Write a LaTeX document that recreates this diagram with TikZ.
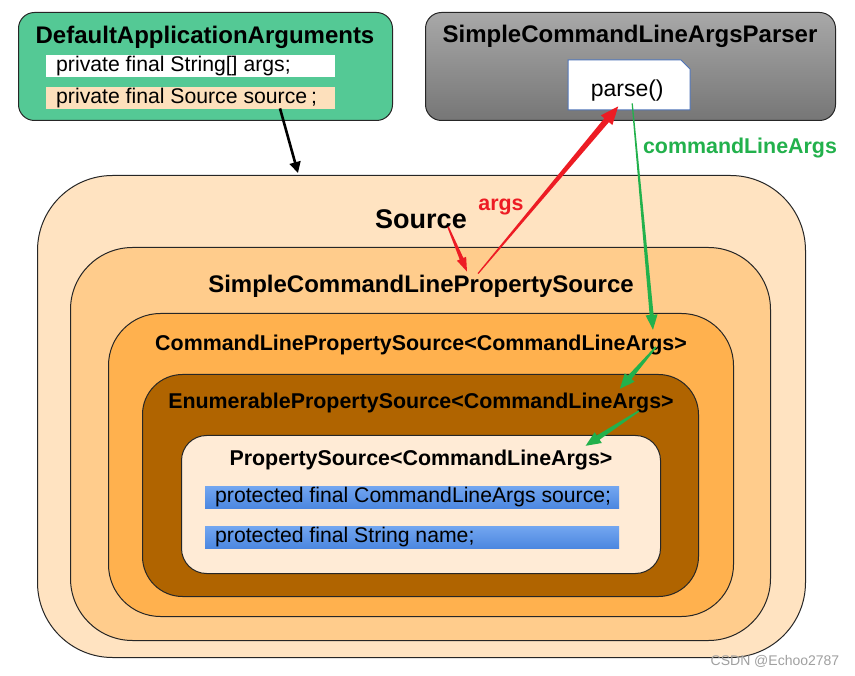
\documentclass[tikz,border=0pt]{standalone}
\usepackage{fontspec}
\setmainfont{Liberation Sans}
\usetikzlibrary{calc,arrows.meta}
\definecolor{boxgreen}{RGB}{84,201,149}
\definecolor{rowpeach}{RGB}{253,224,188}
\definecolor{srcfill}{RGB}{255,227,193}
\definecolor{simplefill}{RGB}{255,204,140}
\definecolor{cmdfill}{RGB}{255,177,78}
\definecolor{enumfill}{RGB}{176,100,0}
\definecolor{psfill}{RGB}{255,235,214}
\definecolor{bluetop}{RGB}{115,166,240}
\definecolor{bluebot}{RGB}{76,135,224}
\definecolor{graytop}{RGB}{168,168,168}
\definecolor{graybot}{RGB}{118,118,118}
\definecolor{parseborder}{RGB}{79,116,184}
\definecolor{arrred}{RGB}{237,28,36}
\definecolor{arrgreen}{RGB}{34,177,76}
\definecolor{wmgray}{RGB}{160,160,160}
\newcommand\taperarrow[7]{%
  \coordinate (tpH) at ($(#3)!#6!(#2)$);
  \fill[#1] ($(#2)!#4!90:(#3)$) -- ($(tpH)!#5!90:(#3)$) -- ($(tpH)!#7!90:(#3)$) -- (#3)
    -- ($(tpH)!#7!-90:(#3)$) -- ($(tpH)!#5!-90:(#3)$) -- ($(#2)!#4!-90:(#3)$) -- cycle;}
\newcommand\rowtext[2]{\makebox[#1][l]{#2}}
\begin{document}
\begin{tikzpicture}[x=1pt,y=-1pt,
  box/.style={draw=black!85, line width=1pt, anchor=north west, inner sep=0pt},
  ttl/.style={font=\bfseries\fontsize{24}{28}\selectfont, inner sep=0pt},
  lbl/.style={font=\bfseries\fontsize{21.4}{24}\selectfont, inner sep=0pt},
  row/.style={anchor=north west, inner xsep=10pt, inner ysep=0pt, minimum height=22pt,
    font=\fontsize{21.2}{22}\selectfont},
  bluerow/.style={row, top color=bluetop, bottom color=bluebot}]
\useasboundingbox (0,0) rectangle (855,676);
\fill[white] (0,0) rectangle (855,676);

% DefaultApplicationArguments
\node[box, fill=boxgreen, rounded corners=16pt, minimum width=374pt, minimum height=108pt] (daa) at (18,12) {};
\node[ttl] (daaT) at (205,37) {DefaultApplicationArguments};
\node[row, fill=white] (r1) at (46,55) {\rowtext{269pt}{private final String[] args;}};
\node[row, fill=rowpeach] (r2) at (46,87) {\rowtext{269pt}{private final Source source\hspace{4pt};}};

% SimpleCommandLineArgsParser
\node[box, rounded corners=16pt, top color=graytop, bottom color=graybot, minimum width=410pt, minimum height=108pt] (parser) at (425,12) {};
\node[ttl] (parserT) at (630,36) {SimpleCommandLineArgsParser};
\filldraw[fill=white, draw=parseborder, line width=1pt] (568,110) -- (568,60) -- (681,60) -- (690,69) -- (690,110) -- cycle;
\node[anchor=north west, minimum width=122pt, minimum height=50pt, inner sep=0pt, font=\fontsize{23}{26}\selectfont] (parse) at (566,60) {\raisebox{-11pt}[0pt][0pt]{parse()}};

% nested sources
\node[box, fill=srcfill, rounded corners=75pt, minimum width=768pt, minimum height=482pt] (src) at (37,175) {};
\node[box, fill=simplefill, rounded corners=62pt, minimum width=700pt, minimum height=393pt] (simple) at (70,247) {};
\node[box, fill=cmdfill, rounded corners=52pt, minimum width=625pt, minimum height=303pt] (cmd) at (108,313) {};
\node[box, fill=enumfill, rounded corners=40pt, minimum width=556pt, minimum height=222pt] (enum) at (142,374) {};
\node[box, fill=psfill, rounded corners=25pt, minimum width=479pt, minimum height=138pt] (ps) at (181,435) {};

\node[font=\bfseries\fontsize{27}{30}\selectfont, inner sep=0pt] (srcT) at (421,219) {Source};
\node[ttl] (simpleT) at (421,286) {SimpleCommandLinePropertySource};
\node[lbl] (cmdT) at (421,345) {CommandLinePropertySource<CommandLineArgs>};
\node[lbl] (enumT) at (421,403) {EnumerablePropertySource<CommandLineArgs>};
\node[lbl] (psT) at (421,460) {PropertySource<CommandLineArgs>};
\node[bluerow] (b1) at (205,486) {\rowtext{394pt}{protected final CommandLineArgs source;}};
\node[bluerow] (b2) at (205,526) {\rowtext{394pt}{protected final String name;}};

% labels
\node[lbl, text=arrred] (argsL) at (501,207) {args};
\node[lbl, text=arrgreen] (claL) at (740,148) {commandLineArgs};
\node[font=\fontsize{14}{16}\selectfont, text=wmgray, inner sep=0pt] (wm) at (775,661) {CSDN @Echoo2787};

% connectors
\draw[line width=2.6pt, -{Triangle[length=11pt,width=11pt]}] ($(r2.south west)+(234,-1)$) -- ($(src.north west)+(261,-2)$);

\coordinate (rA) at ($(simpleT.north)+(57,-1)$);
\coordinate (rB) at ($(parse.south)+(-9,-4)$);
\taperarrow{arrred}{rA}{rB}{0.6pt}{3pt}{18pt}{7.5pt}

\coordinate (r2A) at ($(srcT.south)+(27,-2)$);
\coordinate (r2B) at ($(simpleT.north)+(46,-3)$);
\taperarrow{arrred}{r2A}{r2B}{0.8pt}{2pt}{14pt}{5pt}

\coordinate (gA) at ($(parse.south)+(5,-7)$);
\coordinate (gB) at ($(cmdT.north east)+(-34,-5)$);
\taperarrow{arrgreen}{gA}{gB}{0.6pt}{2pt}{15pt}{6pt}

\coordinate (g2A) at ($(cmdT.east)+(-31,2)$);
\coordinate (g2B) at ($(enumT.north east)+(-54,-4)$);
\taperarrow{arrgreen}{g2A}{g2B}{0.8pt}{2.5pt}{15pt}{6.5pt}

\coordinate (g3A) at ($(enumT.east)+(-35,8)$);
\coordinate (g3B) at ($(psT.north east)+(-27,-4)$);
\taperarrow{arrgreen}{g3A}{g3B}{0.8pt}{2.5pt}{15pt}{6.5pt}
\end{tikzpicture}
\end{document}
